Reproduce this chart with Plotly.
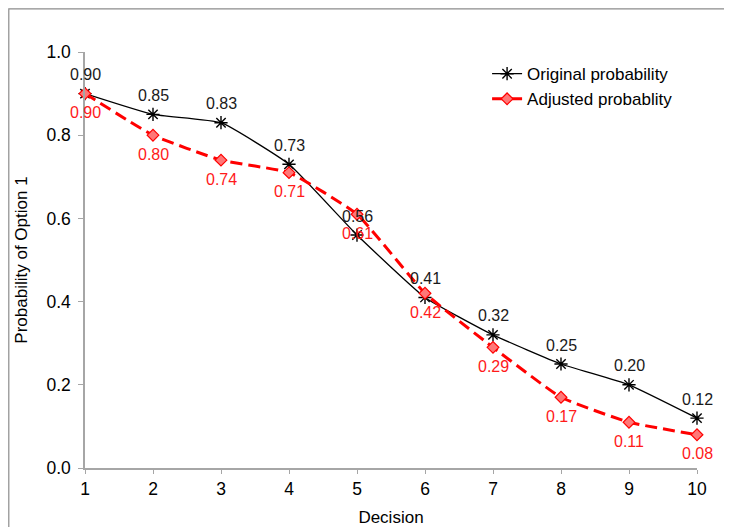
import plotly.graph_objects as go

decisions = [1, 2, 3, 4, 5, 6, 7, 8, 9, 10]
original = [0.90, 0.85, 0.83, 0.73, 0.56, 0.41, 0.32, 0.25, 0.20, 0.12]
adjusted = [0.90, 0.80, 0.74, 0.71, 0.61, 0.42, 0.29, 0.17, 0.11, 0.08]
y_ticks = [0.0, 0.2, 0.4, 0.6, 0.8, 1.0]

FONT = "Liberation Sans, Arial, sans-serif"
AX = "#a6a6a6"

fig = go.Figure()
fig.add_trace(go.Scatter(
    x=decisions, y=original, name="Original probability",
    mode="lines+markers", cliponaxis=False,
    line=dict(color="black", width=1.3, shape="spline", smoothing=0.4),
    marker=dict(symbol="asterisk-open", size=11, color="black", line=dict(color="black", width=1.4)),
))
fig.add_trace(go.Scatter(
    x=decisions, y=adjusted, name="Adjusted probablity",
    mode="lines+markers", cliponaxis=False,
    line=dict(color="#ff0000", width=3, dash="12px,6px", shape="spline", smoothing=0.4),
    marker=dict(symbol="diamond", size=9, color="#ff7777", line=dict(color="#ff0000", width=1.2)),
))

for xv, yv in zip(decisions, original):
    fig.add_annotation(x=xv, y=yv, text=f"{yv:.2f}", showarrow=False,
                       xanchor="center", yanchor="middle", yshift=19,
                       font=dict(family=FONT, size=16, color="#1a1a1a"))
for xv, yv in zip(decisions, adjusted):
    fig.add_annotation(x=xv, y=yv, text=f"{yv:.2f}", showarrow=False,
                       xanchor="center", yanchor="middle", yshift=-19,
                       font=dict(family=FONT, size=16, color="#ff1a1a"))

fig.update_layout(
    width=724, height=519,
    margin=dict(l=77, r=35, t=44, b=59),
    paper_bgcolor="white", plot_bgcolor="white",
    font=dict(family=FONT, size=17.5, color="black"),
    showlegend=True,
    legend=dict(x=0.657, y=0.99, xanchor="left", yanchor="top",
                font=dict(family=FONT, size=17, color="black"),
                bgcolor="rgba(0,0,0,0)", tracegroupgap=0, itemwidth=30),
    xaxis=dict(range=[1, 10], tickvals=decisions, showgrid=False, zeroline=False,
               showline=True, linecolor=AX, linewidth=1.5, automargin=False,
               ticks="outside", ticklen=4, tickcolor=AX, tickwidth=1.2,
               tickfont=dict(size=17.5), title=dict(text="Decision", font=dict(size=17), standoff=16)),
    yaxis=dict(range=[0, 1], tickvals=y_ticks, tickformat=".1f", showgrid=False, zeroline=False,
               showline=True, linecolor=AX, linewidth=1.5, automargin=False,
               ticks="outside", ticklen=5, tickcolor=AX, tickwidth=1.2, ticklabelstandoff=4,
               tickfont=dict(size=17.5), title=dict(text="Probability of Option 1", font=dict(size=17), standoff=14)),
)

fig.add_shape(type="rect", xref="paper", yref="paper",
              x0=(0.8 - 77) / 612, x1=(760 - 77) / 612,
              y0=(460 - 560) / 416, y1=(460 - 0.8) / 416,
              line=dict(color="#8c8c8c", width=1.2), fillcolor="rgba(0,0,0,0)", layer="below")

fig.write_html("out.html")
